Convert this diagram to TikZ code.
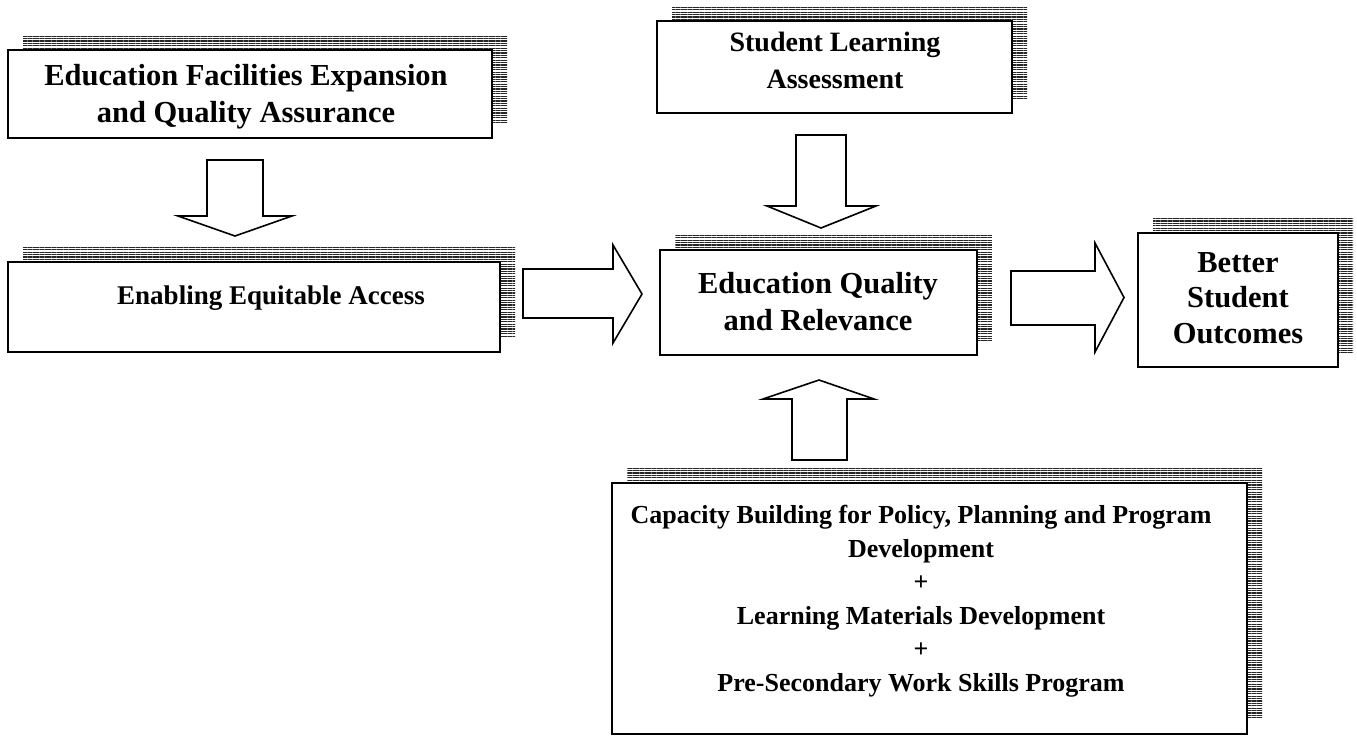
\documentclass[tikz,border=0pt]{standalone}
\usepackage{fontspec}
\setmainfont{Liberation Serif}
\usetikzlibrary{shadows,patterns.meta}
\begin{document}
\begin{tikzpicture}[x=1pt,y=-1pt,
  box/.style={draw=black, line width=1.7pt, fill=white, rectangle, inner sep=0pt,
    general shadow={pattern={Lines[angle=0,distance=2.4pt,line width=1.3pt]},
      pattern color=black!85, shadow xshift=15pt, shadow yshift=15pt}},
  lbl/.style={align=center, inner sep=0pt},
  big/.style={font=\bfseries\fontsize{30.5}{37}\selectfont},
  mid/.style={font=\bfseries\fontsize{28}{37}\selectfont},
  small/.style={font=\bfseries\fontsize{26}{33.5}\selectfont},
  blockarrow/.style={draw=black, line width=1.6pt, fill=white, line join=miter}
]
\useasboundingbox (0,0) rectangle (1357,737);

% boxes
\node[box, minimum width=484pt, minimum height=88pt]  (facil)   at (250,94)    {};
\node[box, minimum width=355pt, minimum height=92pt]  (assess)  at (834.5,67)  {};
\node[box, minimum width=492pt, minimum height=90pt]  (access)  at (254,307)   {};
\node[box, minimum width=317pt, minimum height=105pt] (quality) at (818.5,302.5) {};
\node[box, minimum width=200pt, minimum height=134pt] (outcome) at (1238,300)  {};
\node[box, minimum width=635pt, minimum height=251pt] (capac)   at (929.5,608.5) {};

% labels
\node[lbl, big] (tfacil)   at (246,97)   {Education Facilities Expansion\\and Quality Assurance};
\node[lbl, mid] (tassess)  at (835,60)   {Student Learning\\Assessment};
\node[lbl, font=\bfseries\fontsize{27}{33}\selectfont] (taccess)  at (271,298)  {Enabling Equitable Access};
\node[lbl, big] (tquality) at (818,302)  {Education Quality\\and Relevance};
\node[lbl, font=\bfseries\fontsize{30.5}{35.5}\selectfont] (toutcome) at (1238,298) {Better\\Student\\Outcomes};
\node[lbl, small] (tcapac) at (921,601)
  {Capacity Building for Policy, Planning and Program\\Development\\+\\Learning Materials Development\\+\\Pre-Secondary Work Skills Program};

% block arrows
% facilities -> access (down)
\draw[blockarrow] (207,160) -- (263,160) -- (263,216) -- (292,216) -- (235,236)
  -- (178,216) -- (207,216) -- cycle;
% assessment -> quality (down)
\draw[blockarrow] (796,135) -- (846,135) -- (846,206) -- (876,206) -- (821,228)
  -- (767,206) -- (796,206) -- cycle;
% capacity -> quality (up)
\draw[blockarrow] (792,460) -- (847,460) -- (847,399) -- (874,399) -- (819,380)
  -- (763,399) -- (792,399) -- cycle;
% access -> quality (right)
\draw[blockarrow] (523,269) -- (613,269) -- (613,245) -- (642,294) -- (613,343)
  -- (613,318) -- (523,318) -- cycle;
% quality -> outcomes (right)
\draw[blockarrow] (1011,271) -- (1095,271) -- (1095,243) -- (1124,297.5) -- (1095,352)
  -- (1095,325) -- (1011,325) -- cycle;
\end{tikzpicture}
\end{document}
